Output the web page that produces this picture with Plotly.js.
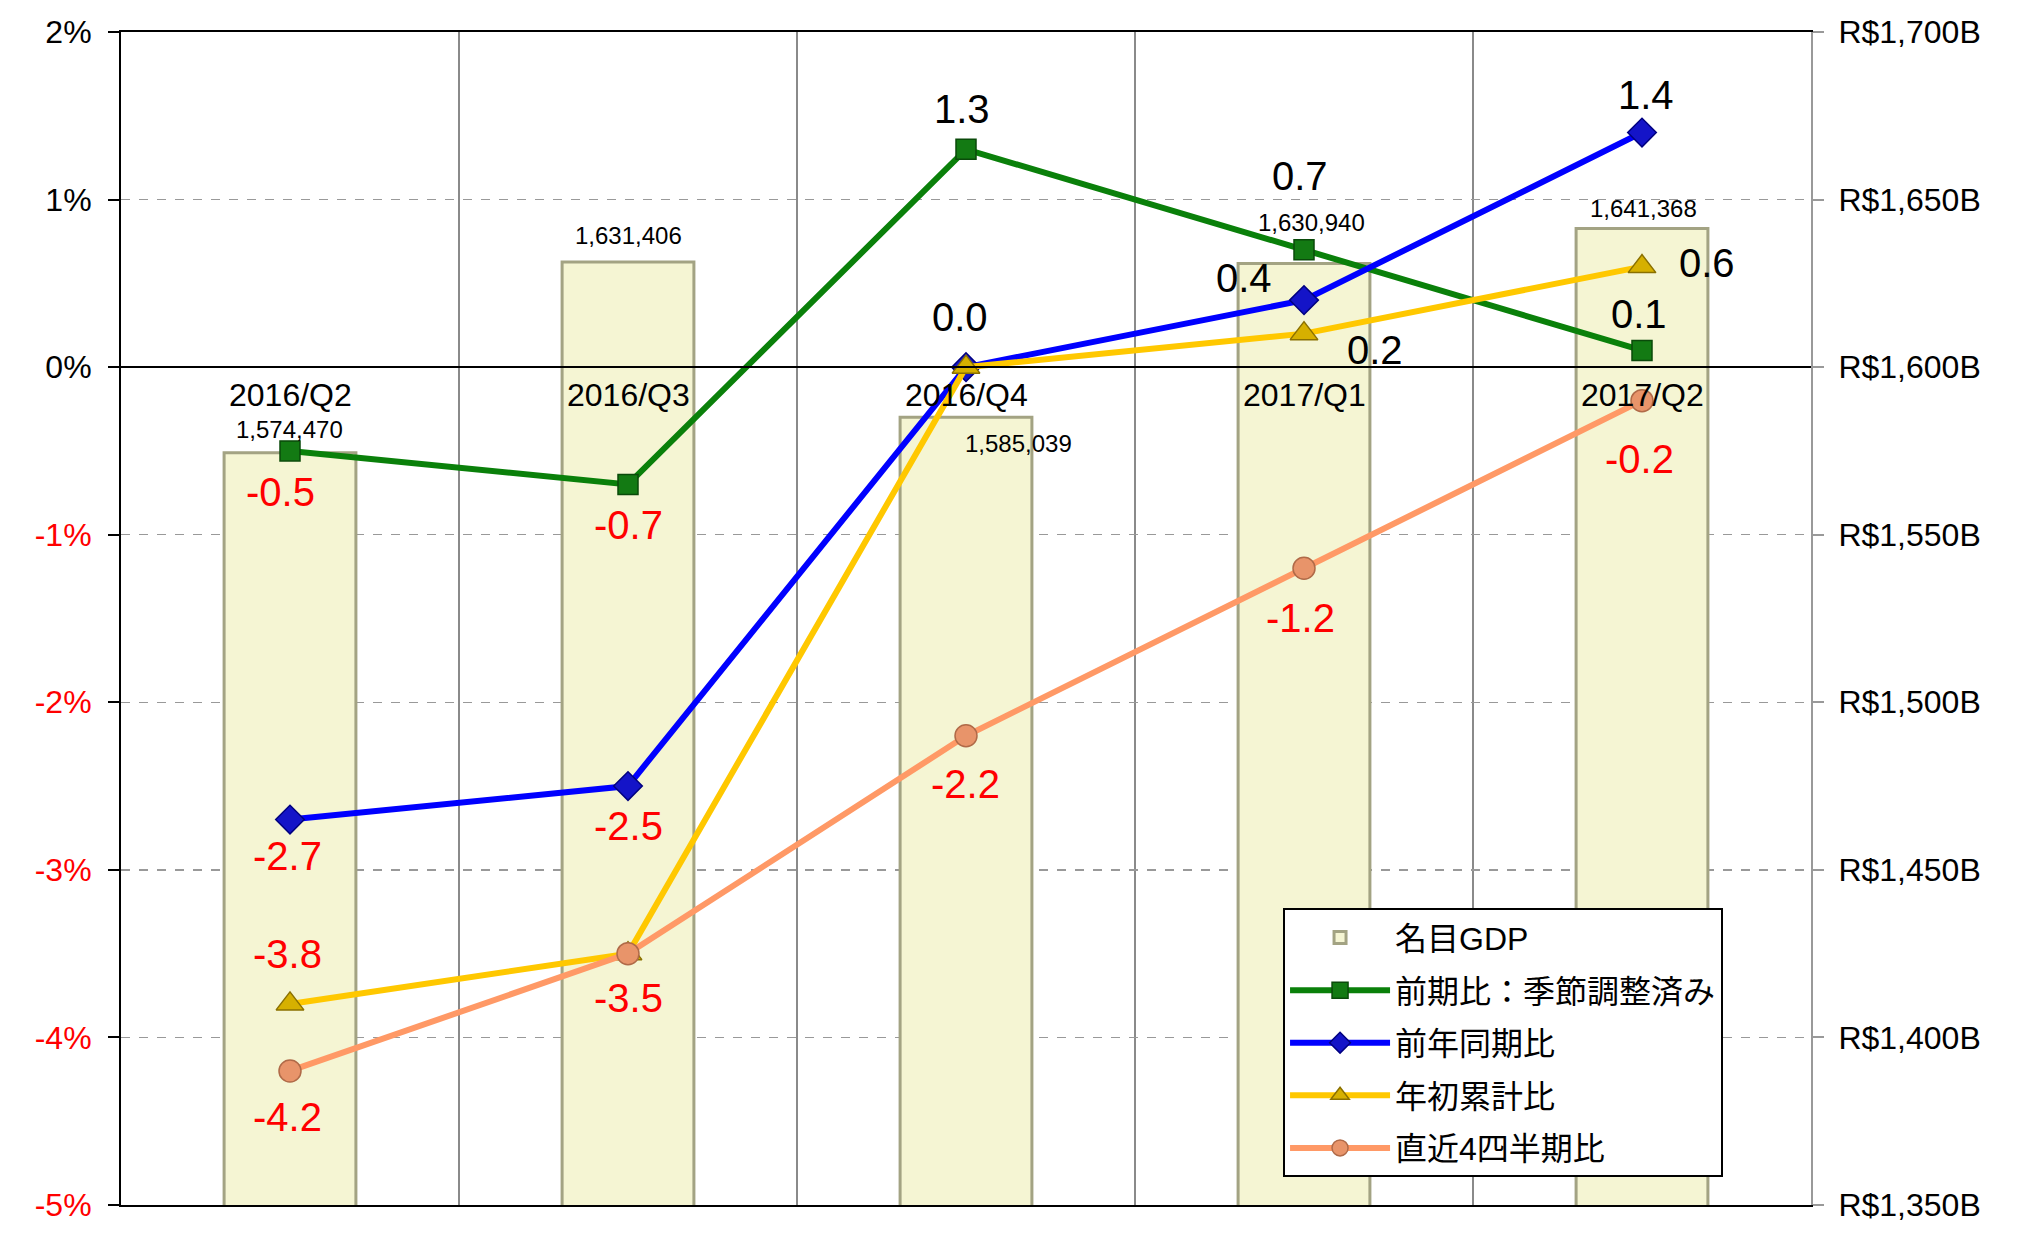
<!DOCTYPE html>
<html>
<head>
<meta charset="utf-8">
<script src="https://cdn.plot.ly/plotly-3.0.1.min.js"></script>
<style>
html,body{margin:0;padding:0;background:#fff;}
#chart{width:2044px;height:1236px;}
</style>
</head>
<body>
<div id="chart"></div>
<script>
// ---- data ----
const categories = ['2016/Q2', '2016/Q3', '2016/Q4', '2017/Q1', '2017/Q2'];
const gdpMillions = [1574470, 1631406, 1585039, 1630940, 1641368];
const qoqSA = [-0.5, -0.7, 1.3, 0.7, 0.1];      // 前期比：季節調整済み
const yoy = [-2.7, -2.5, 0.0, 0.4, 1.4];        // 前年同期比
const ytd = [-3.8, -3.5, 0.0, 0.2, 0.6];        // 年初累計比
const last4q = [-4.2, -3.5, -2.2, -1.2, -0.2];  // 直近4四半期比
const seriesNames = ['名目GDP', '前期比：季節調整済み', '前年同期比', '年初累計比', '直近4四半期比'];
const pctTickVals = [-5, -4, -3, -2, -1, 0, 1, 2];
const pctTickLabels = ['-5%', '-4%', '-3%', '-2%', '-1%', '0%', '1%', '2%'];
const gdpTickVals = [1350, 1400, 1450, 1500, 1550, 1600, 1650, 1700];
const gdpTickLabels = ['R$1,350B', 'R$1,400B', 'R$1,450B', 'R$1,500B', 'R$1,550B', 'R$1,600B', 'R$1,650B', 'R$1,700B'];

// ---- styles ----
const FONT = 'Liberation Sans, Arial, "Noto Sans CJK JP", sans-serif';
const gdpB = gdpMillions.map(v => v / 1000);

const lineStyles = [
  {vals: qoqSA, color: '#0a800a', sym: 'square', msize: 20, mcolor: '#137a13', mline: '#0a4a0a',
   show: [1,1,1,1,1], dx: [-10,0,-4,-4,-3], dy: [-41,-41,40,74,36]},
  {vals: yoy, color: '#0000ff', sym: 'diamond', msize: 22, mcolor: '#1414c8', mline: '#000080',
   show: [1,1,1,1,1], dx: [-3,0,-6,-60,4], dy: [-36,-40,50,22,38]},
  {vals: ytd, color: '#ffc800', sym: 'triangle-up', msize: 24, mcolor: '#d6b000', mline: '#8a7000',
   show: [1,0,0,1,1], dx: [-3,0,0,71,65], dy: [50,0,0,-16,4]},
  {vals: last4q, color: '#ff9966', sym: 'circle', msize: 22, mcolor: '#e8946a', mline: '#b06a48',
   show: [1,1,1,1,1], dx: [-3,0,-1,-4,-3], dy: [-46,-44,-48,-50,-58]}
];
const barLabelDx = [-1, 0, 52, 7, 1];
const barLabelDy = [23, 26, -26, 41, 20];

const traces = [];
traces.push({
  type: 'bar', x: categories, y: gdpB, yaxis: 'y', name: seriesNames[0],
  width: 0.39,
  marker: {color: '#f5f5d3', line: {color: '#a3a383', width: 3}},
  legendgroup: 'g0', hoverinfo: 'skip'
});
lineStyles.forEach((s, i) => {
  traces.push({
    type: 'scatter', mode: 'lines+markers', x: categories, y: s.vals, yaxis: 'y2',
    name: seriesNames[i + 1],
    line: {color: s.color, width: 6},
    marker: {symbol: s.sym, size: s.msize, color: s.mcolor, line: {color: s.mline, width: 1.5}},
    legendgroup: 'g' + (i + 1), hoverinfo: 'skip'
  });
});

const annotations = [];
// category labels below the zero line
categories.forEach(c => {
  annotations.push({x: c, y: 0, xref: 'x', yref: 'y2', text: c, showarrow: false,
    yanchor: 'middle', yshift: -28, font: {family: FONT, size: 32, color: '#000'}});
});
// GDP labels
categories.forEach((c, i) => {
  annotations.push({x: c, y: gdpB[i], xref: 'x', yref: 'y', text: gdpMillions[i].toLocaleString('en-US'),
    showarrow: false, yanchor: 'middle', xshift: barLabelDx[i], yshift: barLabelDy[i],
    font: {family: FONT, size: 24, color: '#000'}});
});
// series data labels
lineStyles.forEach(s => {
  s.vals.forEach((v, i) => {
    if (!s.show[i]) return;
    annotations.push({x: categories[i], y: v, xref: 'x', yref: 'y2', text: v.toFixed(1),
      showarrow: false, xanchor: 'center', yanchor: 'middle', xshift: s.dx[i], yshift: s.dy[i],
      font: {family: FONT, size: 40, color: v < 0 ? '#ff0000' : '#000'}});
  });
});

const pctTickText = pctTickLabels.map((t, i) =>
  pctTickVals[i] < 0 ? '<span style="color:#ff0000">' + t + '</span>' : t);

const layout = {
  width: 2044, height: 1236,
  margin: {l: 121, r: 233, t: 32, b: 31, pad: 0},
  paper_bgcolor: '#fff', plot_bgcolor: '#fff',
  font: {family: FONT, size: 32, color: '#000'},
  showlegend: true,
  barmode: 'overlay',
  xaxis: {
    type: 'category', categoryorder: 'array', categoryarray: categories,
    range: [-0.5, 4.5], tickson: 'boundaries', showgrid: true, gridcolor: '#8a8a8a', gridwidth: 1.5,
    showticklabels: false, ticks: '', showline: true, linecolor: '#000', linewidth: 2, mirror: true,
    zeroline: false, fixedrange: true
  },
  yaxis: {
    side: 'right', range: [1350, 1700], tickvals: gdpTickVals, ticktext: gdpTickLabels,
    showgrid: false, zeroline: false, showline: true, linecolor: '#999', linewidth: 2,
    ticks: 'outside', ticklen: 11, tickcolor: '#999', tickwidth: 2, ticklabelstandoff: 8,
    tickfont: {family: FONT, size: 32, color: '#000'}, fixedrange: true
  },
  yaxis2: {
    overlaying: 'y', side: 'left', range: [-5, 2], tickvals: pctTickVals, ticktext: pctTickText,
    showgrid: true, gridcolor: '#999', gridwidth: 1.5, griddash: 'dash',
    zeroline: true, zerolinecolor: '#000', zerolinewidth: 2.5, zerolinelayer: 'above traces',
    showline: true, linecolor: '#000', linewidth: 2,
    ticks: 'outside', ticklen: 11, tickcolor: '#000', tickwidth: 2, ticklabelstandoff: 10,
    tickfont: {family: FONT, size: 32, color: '#000'}, fixedrange: true
  },
  legend: {
    x: 0.6876, y: 0.253, xanchor: 'left', yanchor: 'top',
    bgcolor: '#fff', bordercolor: '#000', borderwidth: 2,
    font: {family: FONT, size: 32, color: '#000'},
    traceorder: 'grouped', tracegroupgap: 8, itemwidth: 100
  },
  annotations: annotations
};

Plotly.newPlot('chart', traces, layout, {staticPlot: true, displayModeBar: false});
</script>
</body>
</html>
